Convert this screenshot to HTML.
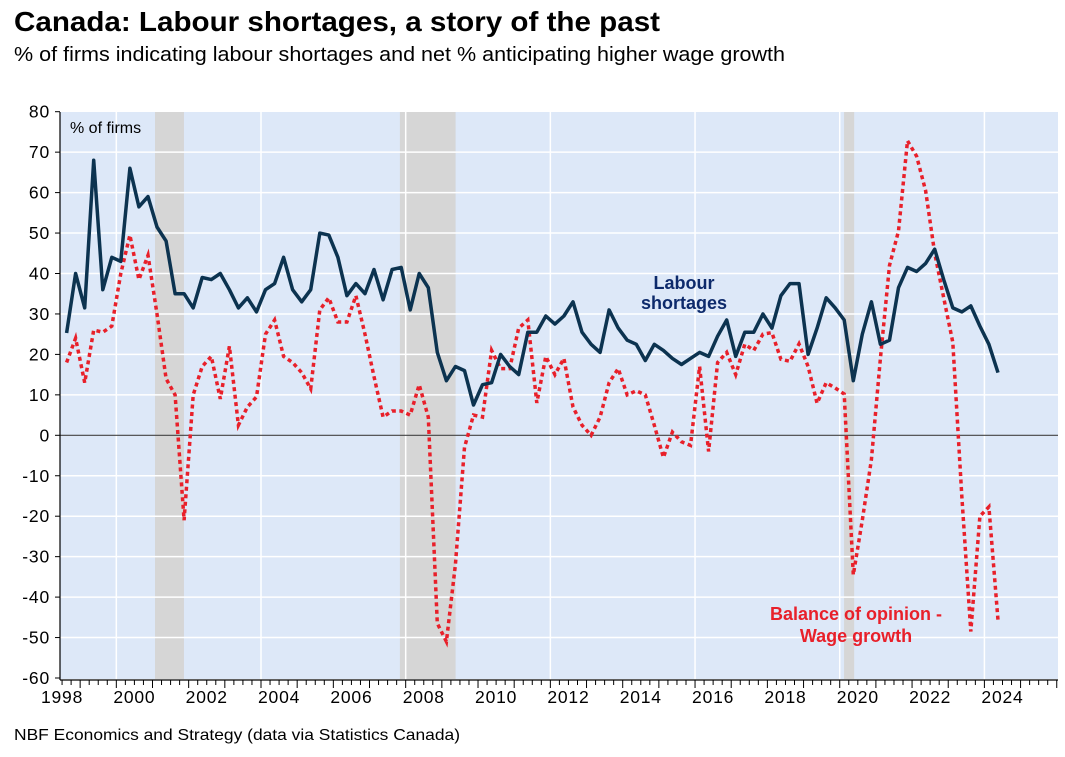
<!DOCTYPE html>
<html><head><meta charset="utf-8">
<style>
body{margin:0;background:#fff;width:1065px;height:752px;overflow:hidden;font-family:"Liberation Sans",sans-serif}
</style></head>
<body>
<svg id="chart" width="1065" height="752" font-family="Liberation Sans, sans-serif">
<text x="14" y="31" font-size="28" font-weight="bold" fill="#000" textLength="646" lengthAdjust="spacingAndGlyphs">Canada: Labour shortages, a story of the past</text>
<text x="14" y="61" font-size="20" fill="#000" textLength="771" lengthAdjust="spacingAndGlyphs">% of firms indicating labour shortages and net % anticipating higher wage growth</text>
<rect x="60" y="112" width="998" height="567" fill="#dde8f8"/>
<g id="rec"></g><g id="grid"></g><g id="axes"></g><g id="series"></g>
<text x="70" y="133" font-size="16" fill="#000">% of firms</text>
<text x="684" y="289" font-size="18" font-weight="bold" fill="#0d2a6b" text-anchor="middle">Labour</text>
<text x="684" y="309" font-size="18" font-weight="bold" fill="#0d2a6b" text-anchor="middle">shortages</text>
<text x="856" y="620" font-size="18" font-weight="bold" fill="#e8202a" text-anchor="middle">Balance of opinion -</text>
<text x="856" y="642" font-size="18" font-weight="bold" fill="#e8202a" text-anchor="middle">Wage growth</text>
<text x="14" y="740" font-size="16" fill="#000" textLength="446" lengthAdjust="spacingAndGlyphs">NBF Economics and Strategy (data via Statistics Canada)</text>
</svg>
<script>
const startYear = 1998.625;
const shortages = [25.3,40,31.5,68,36,44,43,66,56.5,59,51.5,48,35,35,31.5,39,38.5,40,36,31.5,34,30.5,36,37.5,44,36,33,36,50,49.5,44,34.5,37.5,35,41,33.5,41,41.5,31,40,36.5,20.5,13.5,17,16,7.5,12.5,13,20,17,15,25.5,25.5,29.5,27.5,29.5,33,25.5,22.5,20.5,31,26.5,23.5,22.5,18.5,22.5,21,19,17.5,19,20.5,19.5,24.5,28.5,19.5,25.5,25.5,30,26.5,34.5,37.5,37.5,20,26.5,34,31.5,28.5,13.5,25,33,22.5,23.5,36.5,41.5,40.5,42.5,46,38.5,31.5,30.5,32,27,22.5,15.5];
const wages = [18,24,13,26,25.5,27,40,49.5,38.5,44.5,30,14,10,-21,10,17,19.5,9,22,2.5,7,9.5,25,28.5,19.5,18,15.5,11.5,31,34,28,28,34.5,25,14.5,4.5,6,6,5,12.5,4.5,-46.5,-51,-32,-3,5,4.5,21,16.5,16.5,26.5,28.5,8,19.5,15,19,7,2.5,0,4.5,13,16.5,10,11,10,2.5,-5.5,0.8,-1.6,-2.5,17,-4,18,20.5,15,22.5,21,25,25.4,18.8,18.3,22.6,17,7.9,13,11.7,10.2,-34.5,-21,-6,19,42,50.5,72.8,69,60.5,45,34,23,-15,-48.5,-20,-17.7,-45.7];
const recessions = [[2001.07,2001.87],[2007.84,2009.38],[2020.12,2020.4]];
const yTicks = [80,70,60,50,40,30,20,10,0,-10,-20,-30,-40,-50,-60];
const xLabels = [1998,2000,2002,2004,2006,2008,2010,2012,2014,2016,2018,2020,2022,2024];
const gridYears = [2000,2004,2008,2012,2016,2020,2024];

const NS="http://www.w3.org/2000/svg";
const X = y => 261 + (y-2004)*36.17;
const Y = v => 435.3 - v*4.045;
function mk(tag, attrs, parent){const e=document.createElementNS(NS,tag);for(const k in attrs)e.setAttribute(k,attrs[k]);parent.appendChild(e);return e;}
const rec=document.getElementById('rec'), grid=document.getElementById('grid'), axes=document.getElementById('axes'), ser=document.getElementById('series');

recessions.forEach(r=>{
  const e=mk('rect',{x:X(r[0]),y:112,width:X(r[1])-X(r[0]),height:567,fill:'#d6d6d6'},rec);
  
  
});
yTicks.forEach(v=>{
  if(v!==0 && v!==80 && v!==-60){const g=mk('line',{x1:60,x2:1058,y1:Y(v),y2:Y(v),stroke:'#fff','stroke-width':1.5},grid);
  
  }
  const t=mk('line',{x1:55,x2:60,y1:Y(v),y2:Y(v),stroke:'#000','stroke-width':1},axes);
  
  
  const l=mk('text',{x:50,y:Y(v)+6,'font-size':17.5,'text-anchor':'end',fill:'#000','letter-spacing':'0.8'},axes);
  l.textContent=v;
  
  
});
gridYears.forEach(yr=>{
  const g=mk('line',{x1:X(yr),x2:X(yr),y1:112,y2:679,stroke:'#fff','stroke-width':1.5},grid);
  
  
});
const z=mk('line',{x1:60,x2:1058,y1:Y(0),y2:Y(0),stroke:'#444','stroke-width':1.2},grid);


const ya=mk('line',{x1:60,x2:60,y1:112,y2:680,stroke:'#000','stroke-width':1.2},axes);


const xa=mk('line',{x1:60,x2:1058,y1:680,y2:680,stroke:'#000','stroke-width':1.2},axes);


for(let q=1998.5;q<=2026;q+=0.25){
  const major=Math.abs(q-Math.round(q))<0.01;
  const t=mk('line',{x1:X(q),x2:X(q),y1:680,y2:major?688:685,stroke:'#000','stroke-width':1},axes);
  
  
}
xLabels.forEach(yr=>{
  const l=mk('text',{x:X(yr+0.5),y:703,'font-size':17.5,'text-anchor':'middle',fill:'#000','letter-spacing':'0.8'},axes);
  l.textContent=yr;
  
  
});
const pts = arr => arr.map((v,i)=>X(startYear+i*0.25).toFixed(1)+','+Y(v).toFixed(1)).join(' ');
const w=mk('polyline',{points:pts(wages),fill:'none',stroke:'#e8202a','stroke-width':3.5,'stroke-dasharray':'4 3.5'},ser);


const s=mk('polyline',{points:pts(shortages),fill:'none',stroke:'#0c3350','stroke-width':3.5,'stroke-linejoin':'round'},ser);


</script>
</body></html>
